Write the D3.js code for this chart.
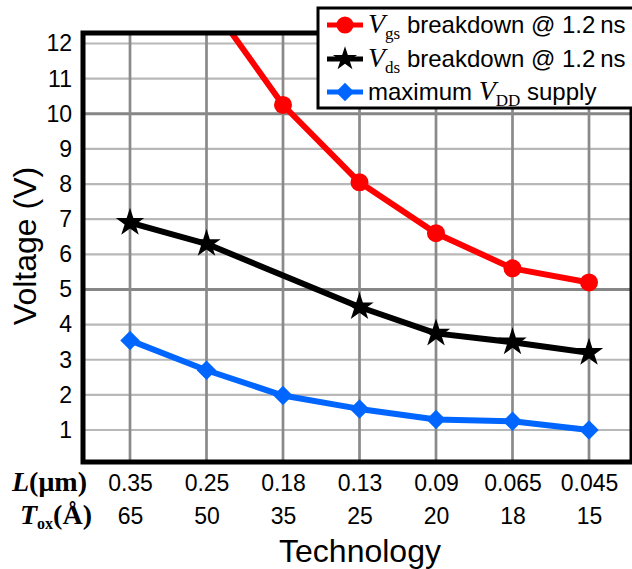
<!DOCTYPE html>
<html><head><meta charset="utf-8">
<script src="https://cdn.jsdelivr.net/npm/d3@7"></script>
<style>html,body{margin:0;padding:0;background:#fff;} svg{display:block}</style>
</head><body><svg id="c" width="632" height="569"></svg>
<script>
// ---- data ----
const categories = ["0.35","0.25","0.18","0.13","0.09","0.065","0.045"];
const toxLabels  = ["65","50","35","25","20","18","15"];
const vgsBreakdown = [16.5, 13.3, 10.25, 8.05, 6.6, 5.6, 5.2];
const vdsBreakdown = [6.9, 6.3, null, 4.5, 3.75, 3.5, 3.2];
const vddMax       = [3.55, 2.7, 1.98, 1.6, 1.3, 1.25, 1.0];
const yTicks = [1,2,3,4,5,6,7,8,9,10,11,12];
const legendLabels = [
  [{t:"V",k:"v"},{t:"gs",k:"sub"},{t:" breakdown @ 1.2\u2009ns",k:"s"}],
  [{t:"V",k:"v"},{t:"ds",k:"sub"},{t:" breakdown @ 1.2\u2009ns",k:"s"}],
  [{t:"maximum ",k:"s"},{t:"V",k:"v"},{t:"DD",k:"sub"},{t:" supply",k:"s"}]
];

const SANS = "'Liberation Sans', Arial, sans-serif";
const SERIF = "'Liberation Serif', 'Times New Roman', serif";
const frame = {left:83, right:632, top:33, bottom:462};
const svg = d3.select("#c");

const x = d3.scalePoint().domain(categories).range([130, 589]);
const y = d3.scaleLinear().domain([1, 12]).range([430, 43.5]);

// clip
svg.append("defs").append("clipPath").attr("id","plot")
  .append("rect").attr("x",frame.left).attr("y",frame.top)
  .attr("width",frame.right-frame.left).attr("height",frame.bottom-frame.top);

// grid
svg.append("g").selectAll("line").data(yTicks).join("line")
  .attr("x1",frame.left).attr("x2",frame.right)
  .attr("y1",d=>y(d)).attr("y2",d=>y(d))
  .attr("stroke",d=>d%5===0?"#868686":"#b8b8b8")
  .attr("stroke-width",d=>d%5===0?3:2.2);
svg.append("g").selectAll("line").data(categories).join("line")
  .attr("x1",d=>x(d)).attr("x2",d=>x(d))
  .attr("y1",frame.top).attr("y2",frame.bottom)
  .attr("stroke","#8a8a8a").attr("stroke-width",2.7);

// series
const series = [
  {vals:vgsBreakdown, color:"#ff0000", sym:"circle"},
  {vals:vdsBreakdown, color:"#000000", sym:"star"},
  {vals:vddMax, color:"#0066ff", sym:"diamond"}
];
const line = d3.line().x(d=>x(d.c)).y(d=>y(d.v));
const plotG = svg.append("g").attr("clip-path","url(#plot)");
function drawMarker(g, sym, color, scale){
  if(sym==="circle"){
    g.append("circle").attr("r",9*scale).attr("fill",color);
  } else if(sym==="star"){
    g.append("path").attr("d",d3.symbol(d3.symbolStar, 250*scale*scale)()).attr("fill",color);
  } else {
    g.append("path").attr("d",d3.symbol(d3.symbolSquare, 190*scale*scale)())
      .attr("transform","rotate(45)").attr("fill",color);
  }
}
series.forEach(s=>{
  const pts = s.vals.map((v,i)=>({c:categories[i], v})).filter(d=>d.v!==null);
  plotG.append("path").datum(pts).attr("d",line)
    .attr("fill","none").attr("stroke",s.color).attr("stroke-width",6)
    .attr("stroke-linejoin","round");
  pts.forEach(p=>{
    const g = plotG.append("g").attr("transform",`translate(${x(p.c)},${y(p.v)})`);
    drawMarker(g, s.sym, s.color, 1);
  });
});

// frame
svg.append("rect").attr("x",frame.left).attr("y",frame.top)
  .attr("width",frame.right-frame.left).attr("height",frame.bottom-frame.top)
  .attr("fill","none").attr("stroke","#000").attr("stroke-width",5);

// y axis
const ya = svg.append("g").attr("transform",`translate(${frame.left},0)`)
  .call(d3.axisLeft(y).tickValues(yTicks).tickSize(0).tickPadding(11).tickFormat(d3.format("d")));
ya.select(".domain").remove();
ya.selectAll("text").attr("font-family",SANS).attr("font-size",23).attr("fill","#000");

// x rows
const xa1 = svg.append("g").attr("transform",`translate(0,${frame.bottom})`)
  .call(d3.axisBottom(x).tickSize(0));
xa1.select(".domain").remove();
xa1.selectAll("text").attr("y",29).attr("dy",0).attr("font-family",SANS).attr("font-size",23).attr("fill","#000");
const xa2 = svg.append("g").attr("transform",`translate(0,${frame.bottom})`)
  .call(d3.axisBottom(x).tickSize(0).tickFormat((d,i)=>toxLabels[i]));
xa2.select(".domain").remove();
xa2.selectAll("text").attr("y",62).attr("dy",0).attr("font-family",SANS).attr("font-size",23).attr("fill","#000");

// row labels
const lt = svg.append("text").attr("x",12).attr("y",491).attr("font-family",SERIF).attr("font-weight","bold").attr("font-size",28);
lt.append("tspan").attr("font-style","italic").text("L");
lt.append("tspan").text("(\u03bcm)");
const tt = svg.append("text").attr("x",20).attr("y",524).attr("font-family",SERIF).attr("font-weight","bold").attr("font-size",28);
tt.append("tspan").attr("font-style","italic").text("T");
tt.append("tspan").attr("font-size",16).attr("dy",5).text("ox");
tt.append("tspan").attr("dy",-5).text("(\u00c5)");

// axis titles
svg.append("text").attr("x",360).attr("y",562).attr("text-anchor","middle")
  .attr("font-family",SANS).attr("font-size",32).text("Technology");
svg.append("text").attr("transform","translate(36,246) rotate(-90)").attr("text-anchor","middle")
  .attr("font-family",SANS).attr("font-size",32).text("Voltage (V)");

// legend
const lg = svg.append("g");
lg.append("rect").attr("x",318).attr("y",8).attr("width",330).attr("height",100)
  .attr("fill","#fff").attr("stroke","#000").attr("stroke-width",3);
const rowY = [25, 59, 92];
series.forEach((s,i)=>{
  lg.append("line").attr("x1",327).attr("x2",363).attr("y1",rowY[i]).attr("y2",rowY[i])
    .attr("stroke",s.color).attr("stroke-width",5);
  const g = lg.append("g").attr("transform",`translate(345,${rowY[i]})`);
  drawMarker(g, s.sym, s.color, s.sym==="star"?0.85:0.95);
  const t = lg.append("text").attr("x",368).attr("y",rowY[i]+8);
  legendLabels[i].forEach((p,j)=>{
    const ts = t.append("tspan").text(p.t);
    if(p.k==="v") ts.attr("font-family",SERIF).attr("font-style","italic").attr("font-size",28);
    else if(p.k==="sub") ts.attr("font-family",SERIF).attr("font-size",17).attr("dy",6);
    else ts.attr("font-family",SANS).attr("font-size",24);
    const prev = legendLabels[i][j-1];
    if(p.k!=="sub" && prev && prev.k==="sub") ts.attr("dy",-6);
  });
});
</script></body></html>
